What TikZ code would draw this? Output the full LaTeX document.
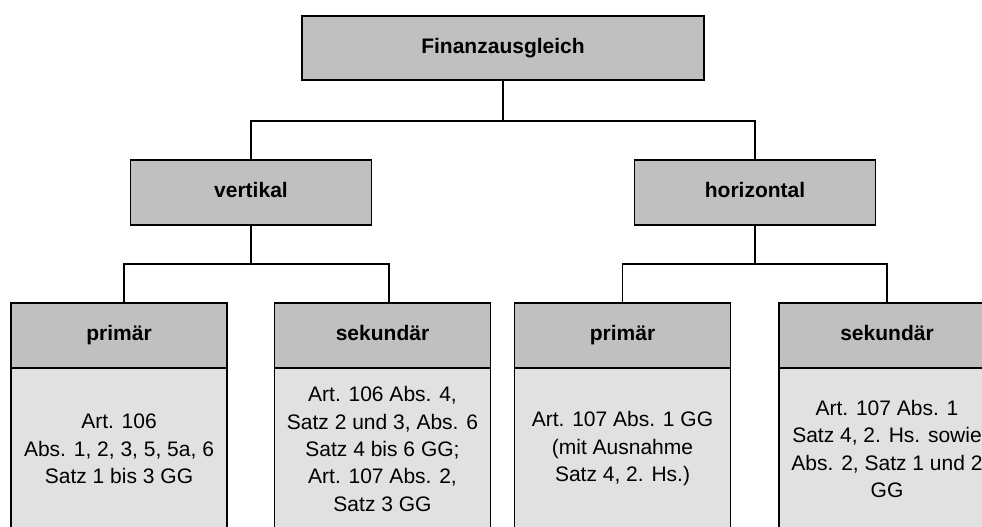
\documentclass[tikz,border=0pt]{standalone}
\usepackage{fontspec}
\setmainfont{Liberation Sans}
\usepackage{xcolor}
\usetikzlibrary{positioning}

\definecolor{headgray}{RGB}{192,192,192}
\definecolor{bodygray}{RGB}{225,225,225}

\tikzset{
  box/.style={draw=black, line width=1pt, fill=headgray, outer sep=0pt, inner sep=0pt,
    text height=11.5pt, text depth=3.3pt,
    font=\fontsize{15.75pt}{20.6pt}\selectfont\bfseries},
  levelbox/.style={box, minimum width=181pt, minimum height=48.75pt},
  headbox/.style={box, minimum width=162pt, minimum height=48.75pt},
  textbox/.style={draw=black, line width=1pt, fill=bodygray, outer sep=0pt, inner sep=0pt,
    minimum width=162pt, minimum height=121.5pt, align=center,
    font=\fontsize{15.75pt}{20.6pt}\selectfont},
  link/.style={line width=1pt}
}

\begin{document}
\begin{tikzpicture}[x=0.75pt, y=-0.75pt]
  % canvas in pixels: 982 x 527, y runs downwards
  \useasboundingbox (0,0) rectangle (982,527);
  \clip (0,0) rectangle (982,527);
  \fill[white] (0,0) rectangle (982,527);
  % top level
  \node[box, minimum width=301.5pt, minimum height=48pt] (fa) at (503,48) {Finanzausgleich};
  \node[levelbox] (vert) at (251,192.5) {vertikal};
  \node[levelbox] (horiz) at (755,192.5) {horizontal};
  % bottom row: header + text body (bottom edge runs off the page)
  \node[headbox] (pv) at (119,335.5) {primär};
  \node[headbox] (sv) at (382.5,335.5) {sekundär};
  \node[headbox] (ph) at (622.5,335.5) {primär};
  \node[headbox] (sh) at (887,335.5) {sekundär};
  \node[textbox, below=0pt of pv] (pvtext) {Art. 106\\Abs. 1, 2, 3, 5, 5a, 6\\Satz 1 bis 3 GG};
  \node[textbox, below=0pt of sv] (svtext) {Art. 106 Abs. 4,\\Satz 2 und 3, Abs. 6\\Satz 4 bis 6 GG;\\Art. 107 Abs. 2,\\Satz 3 GG};
  \node[textbox, below=0pt of ph] (phtext) {Art. 107 Abs. 1 GG\\(mit Ausnahme\\Satz 4, 2. Hs.)};
  \node[textbox, below=0pt of sh] (shtext) {Art. 107 Abs. 1\\Satz 4, 2. Hs. sowie\\Abs. 2, Satz 1 und 2\\GG};
  % connectors
  \draw[link] (fa.south) -- ++(0,41) coordinate (fasplit);
  \draw[link] (vert.north) |- (fasplit) -| (horiz.north);
  \draw[link] (vert.south) -- ++(0,39) coordinate (vsplit);
  \draw[link] ([xshift=3.75pt]pv.north) |- (vsplit) -| ([xshift=4.9pt]sv.north);
  \draw[link] (horiz.south) -- ++(0,39) coordinate (hsplit);
  \draw[link] (ph.north) |- (hsplit) -| (sh.north);
\end{tikzpicture}
\end{document}
